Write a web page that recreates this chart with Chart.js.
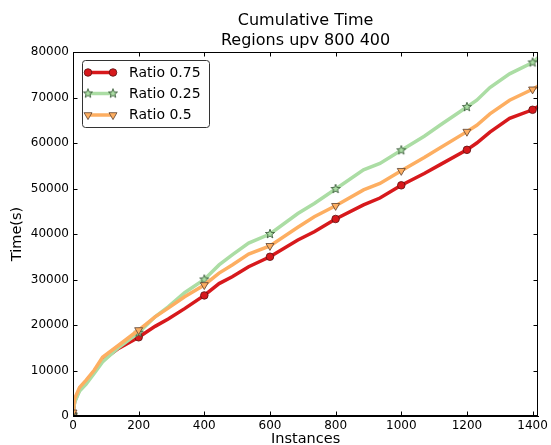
<!DOCTYPE html>
<html>
<head>
<meta charset="utf-8">
<script src="https://cdn.jsdelivr.net/npm/chart.js@4.4.0/dist/chart.umd.min.js"></script>
<style>
  html, body { margin: 0; padding: 0; background: #fff; }
</style>
</head>
<body>
<canvas id="myChart" width="551" height="445"></canvas>
<script>
// Datos
const instances = [0, 5, 20, 40, 65, 90, 140, 200, 250, 290, 340, 400, 445, 485, 535, 600, 685, 735, 800, 885, 935, 1000, 1070, 1120, 1200, 1230, 1270, 1330, 1400, 1417];
const ratio075 = [300, 3200, 5800, 7600, 9900, 12300, 14900, 17300, 19700, 21300, 23600, 26500, 29100, 30600, 32800, 35000, 38700, 40500, 43300, 46400, 47900, 50700, 53300, 55300, 58500, 60000, 62400, 65400, 67300, 68000];
const ratio025 = [300, 3000, 5500, 7000, 9400, 11900, 15100, 18300, 21800, 24000, 27100, 30000, 33200, 35400, 38000, 40000, 44500, 46700, 49900, 54100, 55500, 58400, 61500, 64000, 67900, 69400, 72200, 75200, 77700, 78800];
const ratio05 = [800, 3800, 6300, 7900, 10100, 12900, 15600, 18900, 21800, 23700, 26200, 28800, 31400, 33200, 35600, 37400, 41500, 43800, 46200, 49700, 51100, 53900, 56800, 59000, 62500, 63900, 66400, 69400, 71800, 72500];
const seriesLabels = ['Ratio 0.75', 'Ratio 0.25', 'Ratio 0.5'];
const xTicks = [0, 200, 400, 600, 800, 1000, 1200, 1400];
const yTicks = [0, 10000, 20000, 30000, 40000, 50000, 60000, 70000, 80000];

const FONT = 'DejaVu Sans';

// estrella rellena (como matplotlib '*')
function starImage(fill, stroke, r) {
  const c = document.createElement('canvas');
  const s = Math.ceil(r * 2 + 2);
  c.width = s; c.height = s;
  const g = c.getContext('2d');
  g.translate(s / 2, s / 2);
  g.beginPath();
  for (let i = 0; i < 10; i++) {
    const rr = i % 2 === 0 ? r : r * 0.42;
    const a = -Math.PI / 2 + i * Math.PI / 5;
    g.lineTo(rr * Math.cos(a), rr * Math.sin(a));
  }
  g.closePath();
  g.fillStyle = fill;
  g.fill();
  g.strokeStyle = stroke;
  g.lineWidth = 0.8;
  g.stroke();
  return c;
}

const starGreen = starImage('#abdda4', '#2f4f2f', 4.8);

function markerRadius(r) {
  return instances.map(x => xTicks.includes(x) ? r : 0);
}

function toPoints(values) {
  return instances.map((x, i) => ({ x: x, y: values[i] }));
}

const datasets = [
  {
    label: seriesLabels[0],
    data: toPoints(ratio075),
    borderColor: '#d7191c',
    backgroundColor: '#d7191c',
    pointBorderColor: '#5a1010',
    pointBorderWidth: 0.8,
    pointStyle: 'circle',
    pointRadius: markerRadius(3.8),
    borderWidth: 3.5,
    order: 3
  },
  {
    label: seriesLabels[1],
    data: toPoints(ratio025),
    borderColor: '#abdda4',
    backgroundColor: '#abdda4',
    pointBorderColor: '#2f4f2f',
    pointBorderWidth: 0.8,
    pointStyle: starGreen,
    pointRadius: markerRadius(4),
    borderWidth: 3.5,
    order: 2
  },
  {
    label: seriesLabels[2],
    data: toPoints(ratio05),
    borderColor: '#fdae61',
    backgroundColor: '#fdae61',
    pointBorderColor: '#5a4030',
    pointBorderWidth: 0.8,
    pointStyle: 'triangle',
    pointRotation: 180,
    pointRadius: markerRadius(4.6),
    borderWidth: 3.5,
    order: 1
  }
];

// marco, ticks hacia dentro y leyenda
const framePlugin = {
  id: 'frame',
  afterDraw(chart) {
    const { ctx, chartArea: a, scales: { x, y } } = chart;
    const L = Math.round(a.left) + 0.5, R = Math.round(a.right) - 0.5;
    const T = Math.round(a.top) + 0.5, B = Math.round(a.bottom) - 0.5;
    ctx.save();
    ctx.strokeStyle = '#000';
    ctx.lineWidth = 1;
    ctx.strokeRect(L, T, R - L, B - T);
    ctx.beginPath();
    xTicks.forEach(v => {
      const px = Math.round(x.getPixelForValue(v)) + 0.5;
      ctx.moveTo(px, B); ctx.lineTo(px, B - 4);
      ctx.moveTo(px, T); ctx.lineTo(px, T + 4);
    });
    yTicks.forEach(v => {
      const py = Math.round(y.getPixelForValue(v)) + 0.5;
      ctx.moveTo(L, py); ctx.lineTo(L + 4, py);
      ctx.moveTo(R, py); ctx.lineTo(R - 4, py);
    });
    ctx.stroke();

    // leyenda
    const lx = a.left + 9, ly = a.top + 8, lw = 127, lh = 67;
    ctx.beginPath();
    ctx.roundRect(lx + 0.5, ly + 0.5, lw, lh, 3);
    ctx.fillStyle = '#fff';
    ctx.fill();
    ctx.strokeStyle = '#333';
    ctx.stroke();
    const rows = [ly + 12.5, ly + 33.5, ly + 55];
    chart.data.datasets.forEach((ds, i) => {
      const yy = rows[i];
      ctx.strokeStyle = ds.borderColor;
      ctx.lineWidth = ds.borderWidth;
      ctx.beginPath();
      ctx.moveTo(lx + 6, yy);
      ctx.lineTo(lx + 31, yy);
      ctx.stroke();
      const r = Math.max(...ds.pointRadius);
      [lx + 6, lx + 31].forEach(px => {
        ctx.fillStyle = ds.backgroundColor;
        ctx.strokeStyle = ds.pointBorderColor;
        ctx.lineWidth = ds.pointBorderWidth;
        Chart.helpers.drawPoint(ctx, {
          pointStyle: ds.pointStyle,
          rotation: ds.pointRotation || 0,
          radius: r,
          borderWidth: ds.pointBorderWidth
        }, px, yy);
      });
      ctx.fillStyle = '#000';
      ctx.font = '14px "' + FONT + '"';
      ctx.textBaseline = 'middle';
      ctx.textAlign = 'left';
      ctx.fillText(ds.label, lx + 47, yy + 0.5);
    });
    ctx.restore();
  }
};

const ctx = document.getElementById('myChart').getContext('2d');
new Chart(ctx, {
  type: 'line',
  data: { datasets: datasets },
  options: {
    responsive: false,
    animation: false,
    layout: { padding: { left: 0, right: 8, top: 0, bottom: 0 } },
    elements: { line: { tension: 0 } },
    plugins: {
      legend: { display: false },
      tooltip: { enabled: false },
      title: {
        display: true,
        fullSize: false,
        text: ['Cumulative Time', 'Regions upv 800 400'],
        color: '#000',
        font: { family: FONT, size: 16, weight: 'normal', lineHeight: 1.25 },
        padding: { top: 11, bottom: 1 }
      }
    },
    scales: {
      x: {
        type: 'linear',
        min: 0,
        max: 1417,
        afterFit(scale) { scale.height = 29; },
        afterBuildTicks(scale) { scale.ticks = xTicks.map(v => ({ value: v })); },
        ticks: {
          color: '#000',
          font: { family: FONT, size: 12 },
          padding: 3,
          maxRotation: 0,
          autoSkip: false,
          callback: v => String(v)
        },
        grid: { display: true, drawOnChartArea: false, drawTicks: false },
        border: { color: '#000', width: 1 },
        title: {
          display: true,
          text: 'Instances',
          color: '#000',
          font: { family: FONT, size: 14.5 },
          padding: { top: 0, bottom: -3 }
        }
      },
      y: {
        min: 0,
        max: 80000,
        afterFit(scale) { scale.width = 73; },
        afterBuildTicks(scale) { scale.ticks = yTicks.map(v => ({ value: v })); },
        ticks: {
          color: '#000',
          font: { family: FONT, size: 12 },
          padding: 4,
          autoSkip: false,
          callback: v => String(v)
        },
        grid: { display: true, drawOnChartArea: false, drawTicks: false },
        border: { color: '#000', width: 1 },
        title: {
          display: true,
          text: 'Time(s)',
          color: '#000',
          font: { family: FONT, size: 14.5 },
          padding: { top: 9, bottom: 0 }
        }
      }
    }
  },
  plugins: [framePlugin]
});
</script>
</body>
</html>
